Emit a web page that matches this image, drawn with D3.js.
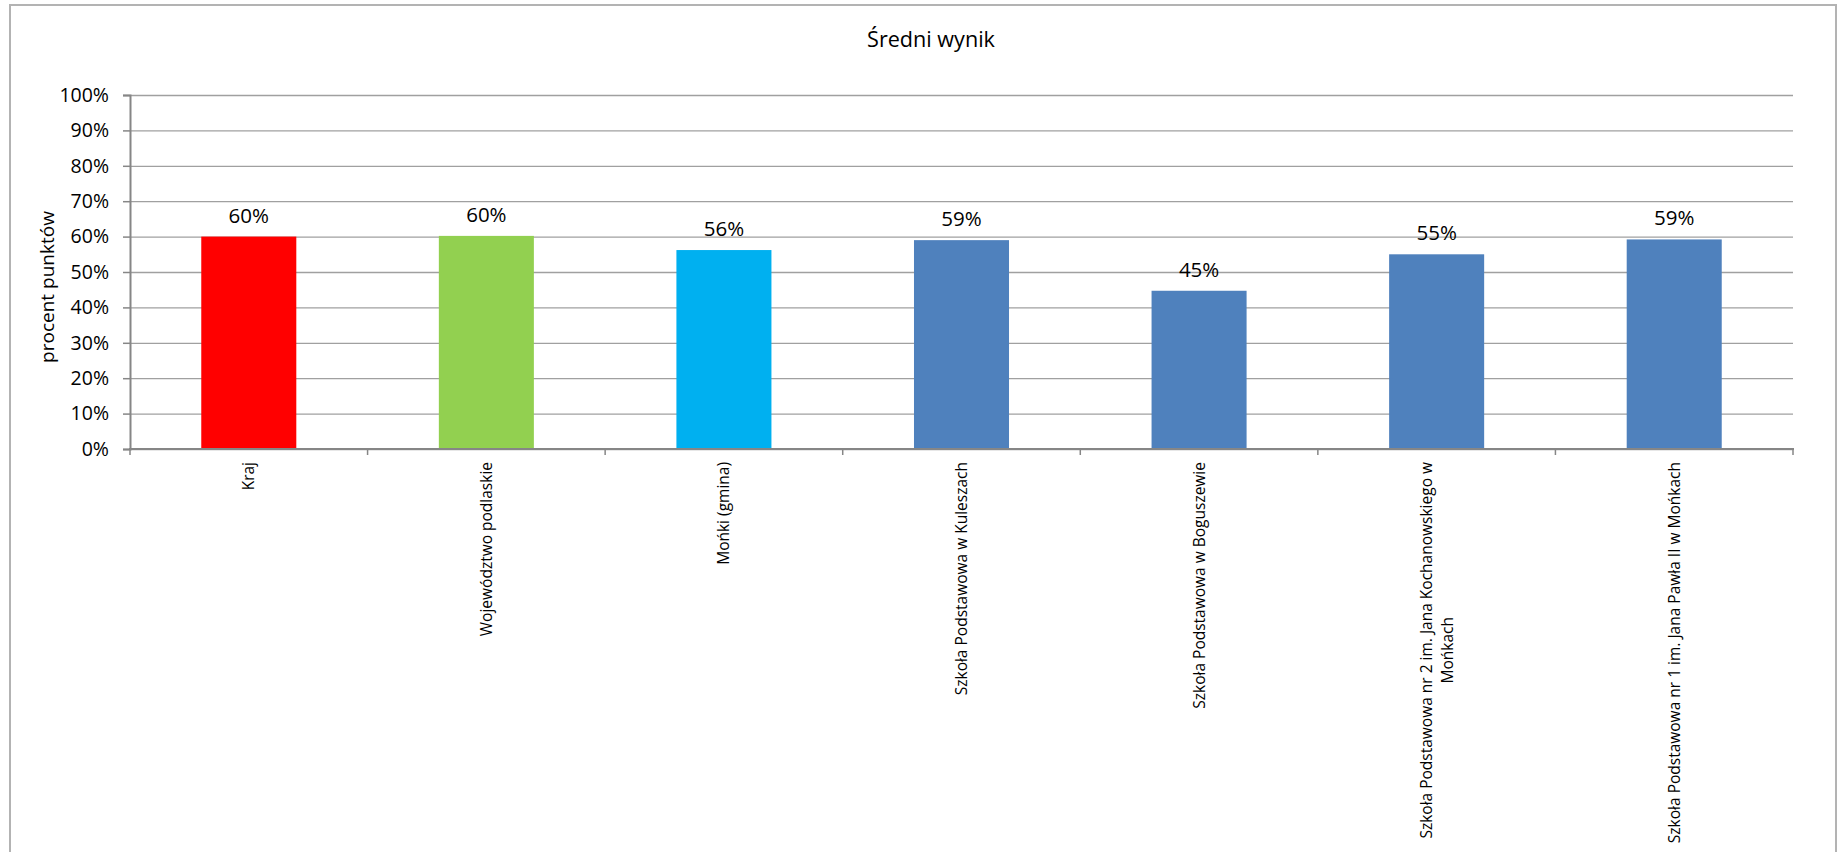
<!DOCTYPE html>
<html>
<head>
<meta charset="utf-8">
<script src="https://cdn.jsdelivr.net/npm/d3@7"></script>
<style>
  html, body { margin: 0; padding: 0; background: #fff; overflow: hidden; }
  text { font-family: "Open Sans", sans-serif; fill: #000; }
</style>
</head>
<body>
<div id="chart"></div>
<script>
// Średni wynik - bar chart

const categories = [
    "Kraj",
    "Województwo podlaskie",
    "Mońki (gmina)",
    "Szkoła Podstawowa w Kuleszach",
    "Szkoła Podstawowa w Boguszewie",
    "Szkoła Podstawowa nr 2 im. Jana Kochanowskiego w Mońkach",
    "Szkoła Podstawowa nr 1 im. Jana Pawła II w Mońkach"
];
const values = [60.0, 60.2, 56.2, 59.0, 44.7, 55.0, 59.2];
const barColors = ["#FF0000", "#92D050", "#00B0F0", "#4F81BD", "#4F81BD", "#4F81BD", "#4F81BD"];
const yTicks = [0, 10, 20, 30, 40, 50, 60, 70, 80, 90, 100];

const width = 1840, height = 852;
const plot = { left: 130, right: 1793, top: 95, bottom: 449 };

const svg = d3.select('#chart').append('svg')
    .attr('width', width)
    .attr('height', height);

// chart frame
svg.append('rect')
    .attr('x', 10).attr('y', 5)
    .attr('width', 1826).attr('height', 870)
    .attr('fill', '#fff')
    .attr('stroke', '#b3b3b3')
    .attr('stroke-width', 2);

const x = d3.scaleBand()
    .domain(categories)
    .range([plot.left, plot.right])
    .paddingInner(0.6)
    .paddingOuter(0.3);

const xCat = d3.scaleBand()
    .domain(categories)
    .range([plot.left, plot.right]);

const y = d3.scaleLinear()
    .domain([0, 100])
    .range([plot.bottom, plot.top]);

// gridlines
const grid = svg.append('g')
    .attr('transform', `translate(${plot.left},0)`)
    .call(d3.axisLeft(y).tickValues(yTicks).tickSize(-(plot.right - plot.left)).tickFormat(''));
grid.select('.domain').remove();
grid.selectAll('line').attr('stroke', '#a0a0a0').attr('stroke-width', 1.3);

// bars
svg.selectAll('rect.bar')
    .data(values)
    .join('rect')
    .attr('class', 'bar')
    .attr('x', (d, i) => x(categories[i]))
    .attr('width', x.bandwidth())
    .attr('y', d => y(d))
    .attr('height', d => y(0) - y(d))
    .attr('fill', (d, i) => barColors[i]);

// y axis
const yAxis = svg.append('g')
    .attr('transform', `translate(${plot.left},0)`)
    .call(d3.axisLeft(y).tickValues(yTicks).tickSize(7).tickPadding(14).tickFormat(d => d + '%'));
yAxis.select('.domain').attr('stroke', '#868686').attr('stroke-width', 2);
yAxis.selectAll('line').attr('stroke', '#868686').attr('stroke-width', 1.5);
yAxis.selectAll('text')
    .style('font-family', '"Open Sans", sans-serif')
    .style('font-size', '19.5px')
    .attr('fill', '#000');

// x axis line + category boundary ticks
svg.append('line')
    .attr('x1', plot.left - 1).attr('x2', plot.right + 1)
    .attr('y1', plot.bottom).attr('y2', plot.bottom)
    .attr('stroke', '#868686').attr('stroke-width', 2);

const boundaries = categories.map(c => xCat(c)).concat([plot.right]);
svg.selectAll('line.xtick')
    .data(boundaries)
    .join('line')
    .attr('class', 'xtick')
    .attr('x1', d => d).attr('x2', d => d)
    .attr('y1', plot.bottom).attr('y2', plot.bottom + 6)
    .attr('stroke', '#868686').attr('stroke-width', 1.5);

// value labels
svg.selectAll('text.val')
    .data(values)
    .join('text')
    .attr('class', 'val')
    .attr('x', (d, i) => x(categories[i]) + x.bandwidth() / 2)
    .attr('y', d => y(d) - 14)
    .attr('text-anchor', 'middle')
    .style('font-size', '20.5px')
    .text(d => Math.round(d) + '%');

// category labels, rotated, wrapped
const maxLabel = 395, lineStep = 21, labelSize = 15.5;
const measure = svg.append('text').style('font-size', labelSize + 'px');
function wrap(str) {
    const words = str.split(' ');
    const lines = [];
    let cur = '';
    words.forEach(w => {
        const test = cur ? cur + ' ' + w : w;
        measure.text(test);
        if (measure.node().getComputedTextLength() > maxLabel && cur) {
            lines.push(cur);
            cur = w;
        } else cur = test;
    });
    lines.push(cur);
    return lines;
}

categories.forEach((c, i) => {
    const lines = wrap(c);
    const widths = lines.map(l => { measure.text(l); return measure.node().getComputedTextLength(); });
    const maxW = d3.max(widths);
    const cx = xCat(c) + xCat.bandwidth() / 2;
    const g = svg.append('g')
        .attr('transform', `translate(${cx},${plot.bottom + 13}) rotate(-90)`);
    lines.forEach((l, j) => {
        g.append('text')
            .attr('x', -(maxW - widths[j]) / 2)
            .attr('y', (j - (lines.length - 1) / 2) * lineStep)
            .attr('dy', '0.35em')
            .attr('text-anchor', 'end')
            .style('font-size', labelSize + 'px')
            .text(l);
    });
});
measure.remove();

// y axis title
svg.append('text')
    .attr('transform', 'translate(47,287) rotate(-90)')
    .attr('dy', '0.35em')
    .attr('text-anchor', 'middle')
    .style('font-size', '19px')
    .text('procent punktów');

// chart title
svg.append('text')
    .attr('x', 931)
    .attr('y', 47)
    .attr('text-anchor', 'middle')
    .style('font-size', '21.6px')
    .text('Średni wynik');
</script>
</body>
</html>
